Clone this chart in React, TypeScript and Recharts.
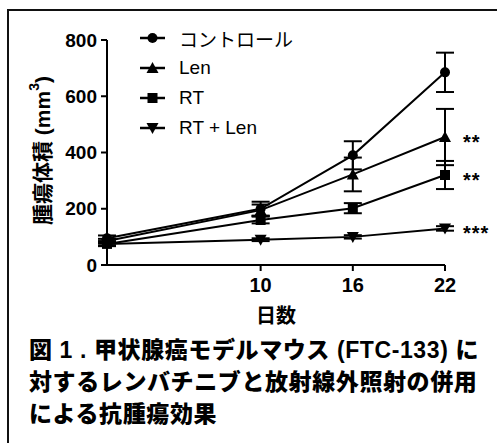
import { LineChart, Line, XAxis, YAxis, ErrorBar } from 'recharts'

const days = [0, 10, 16, 22]
const control = [95, 200, 390, 685]
const controlErr = [10, 25, 50, 70]
const len = [85, 195, 322, 455]
const lenErr = [8, 20, 60, 100]
const rt = [75, 160, 202, 320]
const rtErr = [8, 12, 18, 50]
const rtLen = [75, 90, 100, 130]
const rtLenErr = [5, 5, 6, 8]

const xTicks = [10, 16, 22]
const yTicks = [0, 200, 400, 600, 800]

const seriesNames = ['コントロール', 'Len', 'RT', 'RT + Len']
const markers = ['circle', 'triangle', 'square', 'down']
const stars = ['', '**', '**', '***']

const data = days.map((d, i) => ({
  day: d,
  control: control[i],
  controlErr: controlErr[i],
  len: len[i],
  lenErr: lenErr[i],
  rt: rt[i],
  rtErr: rtErr[i],
  rtLen: rtLen[i],
  rtLenErr: rtLenErr[i],
}))

const SANS = '"Liberation Sans", Arial, "Noto Sans CJK JP", sans-serif'

const Marker = ({ cx, cy, type }: { cx: number; cy: number; type: string }) => {
  if (type === 'circle') return <circle cx={cx} cy={cy} r={5} fill="#000" />
  if (type === 'square') return <rect x={cx - 5} y={cy - 5} width={10} height={10} fill="#000" />
  if (type === 'triangle')
    return <polygon points={`${cx},${cy - 6} ${cx - 6},${cy + 5} ${cx + 6},${cy + 5}`} fill="#000" />
  return <polygon points={`${cx},${cy + 6} ${cx - 6},${cy - 5} ${cx + 6},${cy - 5}`} fill="#000" />
}

const makeDot = (type: string) => (props: any) => (
  <Marker key={`${type}-${props.index}`} cx={props.cx} cy={props.cy} type={type} />
)

const makeStars = (s: string) => (props: any) => {
  if (props.index !== days.length - 1 || !s) return null
  return (
    <text
      key="stars"
      x={props.x + 18}
      y={props.y + 12}
      fontFamily={SANS}
      fontWeight={700}
      fontSize={20}
      fill="#000"
      letterSpacing={1}
    >
      {s}
    </text>
  )
}

const LegendBox = () => (
  <div style={{ fontFamily: SANS }}>
    {seriesNames.map((name, i) => (
      <div key={name} style={{ display: 'flex', alignItems: 'center', height: 30 }}>
        <svg width={44} height={30}>
          <line x1={5} x2={30} y1={15} y2={15} stroke="#000" strokeWidth={2.5} />
          <Marker cx={17.5} cy={15} type={markers[i]} />
        </svg>
        <span style={{ fontSize: 19, color: '#000', whiteSpace: 'nowrap' }}>{name}</span>
      </div>
    ))}
  </div>
)

const YLabel = (props: any) => {
  const { viewBox } = props
  const x = 42
  const y = viewBox.y + viewBox.height / 2 - 2
  return (
    <text
      x={x}
      y={y}
      transform={`rotate(-90, ${x}, ${y})`}
      textAnchor="middle"
      dominantBaseline="central"
      fontFamily={SANS}
      fontWeight={700}
      fontSize={21}
      fill="#000"
    >
      腫瘍体積 (mm
      <tspan fontSize={14} dy={-8}>3</tspan>
      <tspan dy={8}>)</tspan>
    </text>
  )
}

const XLabel = (props: any) => {
  const { viewBox } = props
  return (
    <text
      x={viewBox.x + viewBox.width / 2}
      y={viewBox.y + 58}
      textAnchor="middle"
      fontFamily={SANS}
      fontWeight={700}
      fontSize={20}
      fill="#000"
    >
      日数
    </text>
  )
}

export default function App() {
  const keys = ['control', 'len', 'rt', 'rtLen']
  return (
    <div style={{ position: 'absolute', left: 0, top: 0, width: 497, height: 443, background: '#fff', overflow: 'hidden' }}>
      <div
        style={{
          position: 'absolute',
          left: 7,
          top: 9,
          width: 600,
          height: 600,
          borderLeft: '2px solid #111',
          borderTop: '2px solid #111',
        }}
      />
      <div style={{ position: 'absolute', left: 0, top: 0 }}>
        <LineChart width={497} height={335} data={data} margin={{ top: 40, right: 52, bottom: 0, left: 0 }}>
          <XAxis
            dataKey="day"
            type="number"
            domain={[0, 22]}
            ticks={xTicks}
            interval={0}
            axisLine={{ stroke: '#000', strokeWidth: 2 }}
            tickLine={{ stroke: '#000', strokeWidth: 2 }}
            tickSize={6}
            tickMargin={7}
            height={70}
            tick={{ fontSize: 20, fontWeight: 700, fill: '#000', fontFamily: SANS }}
            label={<XLabel />}
          />
          <YAxis
            type="number"
            domain={[0, 800]}
            ticks={yTicks}
            interval={0}
            width={107}
            axisLine={{ stroke: '#000', strokeWidth: 2 }}
            tickLine={{ stroke: '#000', strokeWidth: 2 }}
            tickSize={6}
            tickMargin={4}
            tick={{ fontSize: 19, fontWeight: 700, fill: '#000', fontFamily: SANS }}
            label={<YLabel />}
          />
          {keys.map((k, i) => (
            <Line
              key={k}
              dataKey={k}
              name={seriesNames[i]}
              stroke="#000"
              strokeWidth={2}
              dot={makeDot(markers[i])}
              activeDot={false}
              isAnimationActive={false}
              label={makeStars(stars[i])}
            >
              <ErrorBar dataKey={`${k}Err`} direction="y" width={9} stroke="#000" strokeWidth={2} />
            </Line>
          ))}
        </LineChart>
      </div>
      <div style={{ position: 'absolute', left: 135, top: 23 }}>
        <LegendBox />
      </div>
      <div
        style={{
          position: 'absolute',
          left: 29,
          top: 334,
          fontFamily: SANS,
          fontWeight: 900,
          fontSize: 23,
          lineHeight: '32px',
          letterSpacing: 0.6,
          color: '#000',
          whiteSpace: 'nowrap',
        }}
      >
        <div>図 1 . 甲状腺癌モデルマウス (FTC-133) に</div>
        <div>対するレンバチニブと放射線外照射の併用</div>
        <div>による抗腫瘍効果</div>
      </div>
    </div>
  )
}
